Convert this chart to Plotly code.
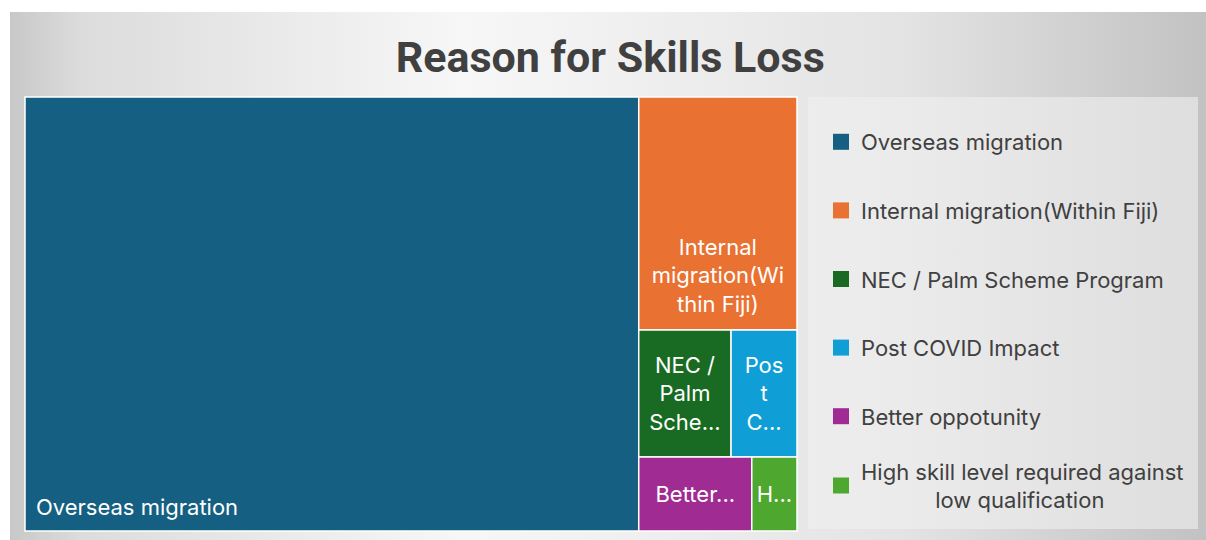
import plotly.graph_objects as go

# Data
reasons = [
    "Overseas migration",
    "Internal migration(Within Fiji)",
    "NEC / Palm Scheme Program",
    "Post COVID Impact",
    "Better oppotunity",
    "High skill level required against low qualification",
]
counts = [159, 22, 7, 5, 5, 2]
tile_labels = [
    "Overseas migration",
    "Internal<br>migration(Wi<br>thin Fiji)",
    "NEC /<br>Palm<br>Sche...",
    "Pos<br>t<br>C...",
    "Better...",
    "H...",
]
legend_labels = [
    "Overseas migration",
    "Internal migration(Within Fiji)",
    "NEC / Palm Scheme Program",
    "Post COVID Impact",
    "Better oppotunity",
    "High skill level required against<br>            low qualification",
]

colors = ['#156082', '#E97132', '#196B24', '#0F9ED5', '#A02B93', '#4EA72E']
label_pos = ["bottom left", "bottom center", "middle center",
             "middle center", "middle center", "middle center"]

W, H = 1206, 540
font_main = "Inter, Noto Sans, sans-serif"

fig = go.Figure()

# gradient backdrop
fig.add_trace(go.Scatter(
    x=[0, 1, 1, 0, 0], y=[0, 0, 1, 1, 0],
    mode='lines', line=dict(width=0),
    fill='toself',
    fillgradient=dict(type='horizontal',
                      colorscale=[[0, '#c8c8c8'], [0.06, '#dcdcdc'], [0.38, '#f7f7f7'],
                                  [0.75, '#e3e3e3'], [1, '#c2c2c2']]),
    showlegend=False, hoverinfo='skip',
))

# treemap tiles; the coloured trace first, then transparent overlays that only
# carry the labels (nudged a few px so they sit like Excel's labels)
L, R, T, B = 25, 797, 97, 531
overlays = [
    (None, 0, 0),
    ("bottom left", 8, -8),
    ("bottom center", 0, -10),
    ("middle center", 0, 0),
]
for pos, dx, dy in overlays:
    base = pos is None
    txt = [t if p == pos else "" for t, p in zip(tile_labels, label_pos)]
    fig.add_trace(go.Treemap(
        labels=reasons,
        parents=[""] * len(reasons),
        values=counts,
        text=txt,
        texttemplate="%{text}",
        textposition=pos or "middle center",
        marker=dict(
            colors=colors if base else ['rgba(0,0,0,0)'] * len(reasons),
            line=dict(color='white' if base else 'rgba(0,0,0,0)', width=1.5),
            pad=dict(t=0, l=0, r=0, b=0),
        ),
        insidetextfont=dict(family=font_main, size=22, color='white'),
        tiling=dict(packing='squarify', pad=0),
        pathbar=dict(visible=False),
        domain=dict(x=[(L + dx) / W, (R + dx) / W],
                    y=[1 - (B + dy) / H, 1 - (T + dy) / H]),
        sort=False,
        hoverinfo='label+value' if base else 'skip',
    ))

# legend entries (last two-line entry in its own legend so it can be centred)
for i, (name, c) in enumerate(zip(legend_labels, colors)):
    fig.add_trace(go.Scatter(
        x=[None], y=[None], mode='markers',
        marker=dict(symbol='square', size=16, color=c),
        name=name, legendgroup=f"g{i}",
        legend='legend2' if i == len(legend_labels) - 1 else 'legend',
    ))

leg_font = dict(family=font_main, size=22, color='#404040')
fig.update_layout(
    width=W, height=H,
    margin=dict(l=0, r=0, t=0, b=0),
    paper_bgcolor='white',
    plot_bgcolor='rgba(0,0,0,0)',
    title=dict(text="<b>Reason for Skills Loss</b>", x=0.506, xanchor='center',
               y=1 - 57 / H, yanchor='middle',
               font=dict(family="Roboto, sans-serif", size=43, color='#404040')),
    xaxis=dict(domain=[10 / W, 1], range=[0, 1], visible=False, fixedrange=True),
    yaxis=dict(domain=[0, 1 - 12 / H], range=[0, 1], visible=False, fixedrange=True),
    showlegend=True,
    legend=dict(x=821 / W, y=1 - 121 / H, xanchor='left', yanchor='top',
                bgcolor='rgba(0,0,0,0)', tracegroupgap=37,
                font=leg_font, itemclick=False),
    legend2=dict(x=821 / W, y=1 - 486 / H, xanchor='left', yanchor='middle',
                 bgcolor='rgba(0,0,0,0)', font=leg_font, itemclick=False),
    shapes=[dict(type='rect', xref='paper', yref='paper',
                 x0=808 / W, x1=1198 / W, y0=1 - 529 / H, y1=1 - 97 / H,
                 fillcolor='rgba(240,240,240,0.6)', line=dict(width=0), layer='above')],
)

fig.write_html("out.html", config={'displayModeBar': False},
               post_script="document.body.style.margin='0';")
